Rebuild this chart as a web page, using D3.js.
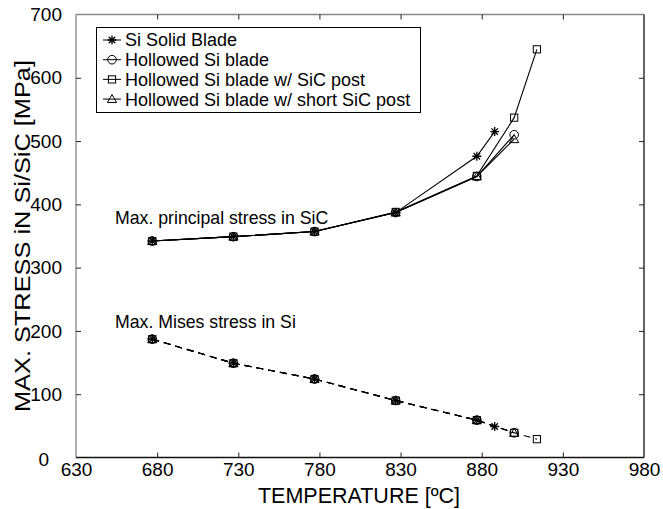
<!DOCTYPE html>
<html lang="en">
<head>
<meta charset="UTF-8">
<title>Max stress vs temperature</title>
<script src="https://cdn.jsdelivr.net/npm/d3@7"></script>
<style>
    body { margin: 0; background: #fff; }
    svg text { font-family: "Liberation Sans", Arial, sans-serif; fill: #000; }
</style>
</head>
<body>
<svg id="chart" width="663" height="509"></svg>
<script>
    // data
    let baseTemps = [677, 727, 777, 827, 877];
    let solidTemps = baseTemps.concat([888]);
    let solidPrincipal = [342, 349, 357, 387, 476, 515];
    let solidMises = [187, 149, 124, 90, 59, 49];

    let hollowTemps = baseTemps.concat([900]);
    let hollowPrincipal = [342, 349, 357, 387, 444, 510];
    let hollowMises = [187, 149, 124, 90, 59, 39];

    let postTemps = baseTemps.concat([900, 914]);
    let postPrincipal = [342, 349, 357, 388, 445, 537, 645];
    let postMises = [187, 149, 124, 90, 59, 39, 29];

    let shortTemps = baseTemps.concat([900]);
    let shortPrincipal = [342, 349, 357, 387, 444, 503];
    let shortMises = [187, 149, 124, 90, 59, 39];

    let seriesNames = ['Si Solid Blade', 'Hollowed Si blade', 'Hollowed Si blade w/ SiC post', 'Hollowed Si blade w/ short SiC post'];
    let seriesMarkers = ['star', 'circle', 'square', 'triangle'];

    let xTicks = [630, 680, 730, 780, 830, 880, 930, 980];
    let yTicks = [0, 100, 200, 300, 400, 500, 600, 700];

    let series = [
        {temps: solidTemps, principal: solidPrincipal, mises: solidMises},
        {temps: hollowTemps, principal: hollowPrincipal, mises: hollowMises},
        {temps: postTemps, principal: postPrincipal, mises: postMises},
        {temps: shortTemps, principal: shortPrincipal, mises: shortMises}
    ].map((s, i) => Object.assign(s, {name: seriesNames[i], marker: seriesMarkers[i]}));

    const plotLeft = 76, plotRight = 644, plotTop = 14.5, plotBottom = 457.5;

    let x = d3.scaleLinear().domain([630, 980]).range([plotLeft, plotRight]);
    let y = d3.scaleLinear().domain([0, 700]).range([plotBottom, plotTop]);

    let svg = d3.select('#chart');

    // frame
    svg.append('line').attr('x1', plotLeft).attr('x2', plotRight).attr('y1', plotTop).attr('y2', plotTop)
        .attr('stroke', '#888').attr('stroke-width', 1.3);
    svg.append('line').attr('x1', plotLeft).attr('x2', plotLeft).attr('y1', plotTop).attr('y2', plotBottom)
        .attr('stroke', '#888').attr('stroke-width', 1.3);
    svg.append('line').attr('x1', plotLeft).attr('x2', plotRight).attr('y1', plotBottom).attr('y2', plotBottom)
        .attr('stroke', '#111').attr('stroke-width', 1.3);
    svg.append('line').attr('x1', plotRight).attr('x2', plotRight).attr('y1', plotTop).attr('y2', plotBottom)
        .attr('stroke', '#111').attr('stroke-width', 1.3);

    // axes, ticks pointing inside
    let xAxis = svg.append('g').attr('transform', 'translate(0,' + plotBottom + ')')
        .call(d3.axisBottom(x).tickValues(xTicks).tickSizeInner(-5).tickSizeOuter(0).tickPadding(4));
    let xAxisTop = svg.append('g').attr('transform', 'translate(0,' + plotTop + ')')
        .call(d3.axisTop(x).tickValues(xTicks).tickSizeInner(-5).tickSizeOuter(0).tickFormat(''));
    let yAxis = svg.append('g').attr('transform', 'translate(' + plotLeft + ',0)')
        .call(d3.axisLeft(y).tickValues(yTicks).tickSizeInner(-5).tickSizeOuter(0).tickPadding(14));
    let yAxisRight = svg.append('g').attr('transform', 'translate(' + plotRight + ',0)')
        .call(d3.axisRight(y).tickValues(yTicks).tickSizeInner(-5).tickSizeOuter(0).tickFormat(''));

    [xAxis, xAxisTop, yAxis, yAxisRight].forEach(a => {
        a.select('.domain').remove();
        a.selectAll('.tick line').attr('stroke', '#222');
        a.selectAll('text').attr('font-size', 19).attr('font-family', '"Liberation Sans", Arial, sans-serif');
    });
    // end ticks sit on the frame, hide their marks
    xAxis.selectAll('.tick').filter(d => d === 630 || d === 980).select('line').remove();
    xAxisTop.selectAll('.tick').filter(d => d === 630 || d === 980).select('line').remove();
    yAxis.selectAll('.tick').filter(d => d === 0 || d === 700).select('line').remove();
    yAxisRight.selectAll('.tick').filter(d => d === 0 || d === 700).select('line').remove();
    xAxis.selectAll('.tick text').attr('dy', '0.75em');
    yAxis.selectAll('.tick text').filter(d => d === 0).attr('x', -27).attr('dy', '0.4em');

    // axis titles
    svg.append('text').attr('x', 359).attr('y', 503)
        .attr('text-anchor', 'middle').attr('font-size', 21.5)
        .text('TEMPERATURE [ºC]');
    svg.append('text').attr('transform', 'translate(30,236) rotate(-90)')
        .attr('text-anchor', 'middle').attr('font-size', 21.5)
        .attr('textLength', 352).attr('lengthAdjust', 'spacingAndGlyphs')
        .text('MAX. STRESS iN Si/SiC [MPa]');

    // markers
    function drawMarker(g, type, cx, cy) {
        if (type === 'star') {
            let r = 4.5, d = r * 0.72;
            let p = 'M' + (cx - r) + ',' + cy + 'H' + (cx + r) +
                'M' + cx + ',' + (cy - r) + 'V' + (cy + r) +
                'M' + (cx - d) + ',' + (cy - d) + 'L' + (cx + d) + ',' + (cy + d) +
                'M' + (cx - d) + ',' + (cy + d) + 'L' + (cx + d) + ',' + (cy - d);
            g.append('path').attr('d', p).attr('stroke', '#000').attr('stroke-width', 1.3).attr('fill', 'none');
        } else if (type === 'circle') {
            g.append('circle').attr('cx', cx).attr('cy', cy).attr('r', 4.3)
                .attr('fill', 'none').attr('stroke', '#000').attr('stroke-width', 1);
        } else if (type === 'square') {
            g.append('rect').attr('x', cx - 3.6).attr('y', cy - 3.6).attr('width', 7.2).attr('height', 7.2)
                .attr('fill', 'none').attr('stroke', '#000').attr('stroke-width', 1);
        } else if (type === 'triangle') {
            let s = 4.6;
            g.append('path').attr('d', 'M' + cx + ',' + (cy - s) + 'L' + (cx + s) + ',' + (cy + s * 0.75) +
                'L' + (cx - s) + ',' + (cy + s * 0.75) + 'Z')
                .attr('fill', 'none').attr('stroke', '#000').attr('stroke-width', 1);
        }
    }

    let plot = svg.append('g');

    series.forEach(s => {
        let principalPts = s.temps.map((t, i) => [t, s.principal[i]]);
        let misesPts = s.temps.map((t, i) => [t, s.mises[i]]);
        let line = d3.line().x(d => x(d[0])).y(d => y(d[1]));

        plot.append('path').attr('d', line(principalPts))
            .attr('fill', 'none').attr('stroke', '#000').attr('stroke-width', 1.1);
        plot.append('path').attr('d', line(misesPts))
            .attr('fill', 'none').attr('stroke', '#000').attr('stroke-width', 1.1)
            .attr('stroke-dasharray', '7,5');

        principalPts.concat(misesPts).forEach(p => drawMarker(plot, s.marker, x(p[0]), y(p[1])));
    });

    // annotations
    svg.append('text').attr('x', 115).attr('y', 224).attr('font-size', 17.7)
        .text('Max. principal stress in SiC');
    svg.append('text').attr('x', 115).attr('y', 328).attr('font-size', 17.7)
        .text('Max. Mises stress in Si');

    // legend
    let legend = svg.append('g');
    legend.append('rect').attr('x', 96.5).attr('y', 27.5).attr('width', 324).attr('height', 85)
        .attr('fill', '#fff').attr('stroke', '#000').attr('stroke-width', 1);

    series.forEach((s, i) => {
        let ly = 40 + i * 19.7;
        legend.append('line').attr('x1', 103).attr('x2', 121).attr('y1', ly).attr('y2', ly)
            .attr('stroke', '#000').attr('stroke-width', 1);
        drawMarker(legend, s.marker, 112, ly);
        legend.append('text').attr('x', 125).attr('y', ly).attr('dy', '0.36em')
            .attr('font-size', 18).text(s.name);
    });
</script>
</body>
</html>
